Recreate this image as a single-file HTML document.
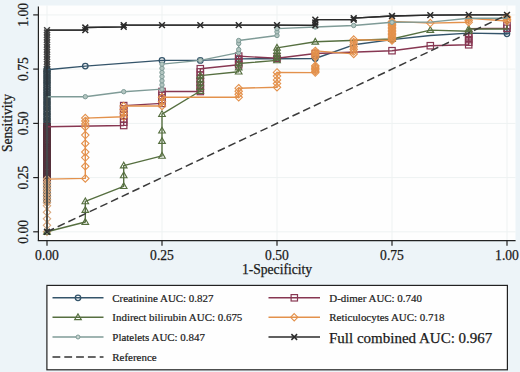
<!DOCTYPE html>
<html><head><meta charset="utf-8"><style>
html,body{margin:0;padding:0;background:#edf4f8;}
body{width:520px;height:372px;overflow:hidden;}
svg{display:block;}
.t{font-family:"Liberation Serif",serif;font-size:13.6px;fill:#1a1a1a;stroke:#1a1a1a;stroke-width:0.25px;}
.l{font-family:"Liberation Serif",serif;font-size:10.95px;fill:#1a1a1a;stroke:#1a1a1a;stroke-width:0.2px;}
.b{font-family:"Liberation Serif",serif;font-size:15px;fill:#1a1a1a;stroke:#1a1a1a;stroke-width:0.25px;}
</style></head><body>
<svg width="520" height="372" viewBox="0 0 520 372">
<rect width="520" height="372" fill="#edf4f8"/>
<rect x="38.5" y="5.5" width="477" height="235" fill="#fefefe"/>
<line x1="38.5" x2="515.5" y1="231.8" y2="231.8" stroke="#eef2f2" stroke-width="1"/>
<line y1="5.5" y2="240.5" x1="47.0" x2="47.0" stroke="#eef2f2" stroke-width="1"/>
<line x1="38.5" x2="515.5" y1="177.6" y2="177.6" stroke="#eef2f2" stroke-width="1"/>
<line y1="5.5" y2="240.5" x1="162.0" x2="162.0" stroke="#eef2f2" stroke-width="1"/>
<line x1="38.5" x2="515.5" y1="123.4" y2="123.4" stroke="#eef2f2" stroke-width="1"/>
<line y1="5.5" y2="240.5" x1="277.0" x2="277.0" stroke="#eef2f2" stroke-width="1"/>
<line x1="38.5" x2="515.5" y1="69.1" y2="69.1" stroke="#eef2f2" stroke-width="1"/>
<line y1="5.5" y2="240.5" x1="392.0" x2="392.0" stroke="#eef2f2" stroke-width="1"/>
<line x1="38.5" x2="515.5" y1="14.9" y2="14.9" stroke="#eef2f2" stroke-width="1"/>
<line y1="5.5" y2="240.5" x1="507.0" x2="507.0" stroke="#eef2f2" stroke-width="1"/>
<rect x="45.6" y="178.7" width="2.8" height="27.1" fill="#3a4248"/>
<polyline points="47.0,231.8 47.0,179.7 47.0,174.5 47.0,169.2 47.0,163.9 47.0,158.7 47.0,153.4 47.0,148.1 47.0,142.9 47.0,137.6 47.0,132.3 47.0,127.1 47.0,121.8 47.0,116.5 47.0,111.3 47.0,106.0 47.0,100.7 47.0,95.5 47.0,90.2 47.0,84.9 47.0,79.7 47.0,74.4 47.0,69.1 47.0,69.1 47.0,66.7 47.0,64.2 47.0,61.8 47.0,59.4 47.0,56.9 47.0,54.5 47.0,52.0 47.0,49.6 47.0,47.2 47.0,44.7 47.0,42.3 47.0,39.8 47.0,37.4 47.0,35.0 47.0,32.5 47.0,30.1 85.3,30.1 85.3,27.5 123.7,26.8 123.7,25.1 162.0,25.1 200.3,25.1 238.7,25.1 277.0,25.1 315.3,25.3 315.3,22.5 315.3,19.7 353.7,19.7 353.7,18.2 392.0,16.0 430.3,15.1 468.7,14.9 507.0,14.9" fill="none" stroke="#2b2b2b" stroke-width="1.3" stroke-linejoin="round" />
<path d="M44.1 176.8L49.9 182.6M44.1 182.6L49.9 176.8" stroke="#424242" stroke-width="1.5" fill="none"/><path d="M44.1 171.6L49.9 177.4M44.1 177.4L49.9 171.6" stroke="#424242" stroke-width="1.5" fill="none"/><path d="M44.1 166.3L49.9 172.1M44.1 172.1L49.9 166.3" stroke="#424242" stroke-width="1.5" fill="none"/><path d="M44.1 161.0L49.9 166.8M44.1 166.8L49.9 161.0" stroke="#424242" stroke-width="1.5" fill="none"/><path d="M44.1 155.8L49.9 161.6M44.1 161.6L49.9 155.8" stroke="#424242" stroke-width="1.5" fill="none"/><path d="M44.1 150.5L49.9 156.3M44.1 156.3L49.9 150.5" stroke="#424242" stroke-width="1.5" fill="none"/><path d="M44.1 145.2L49.9 151.0M44.1 151.0L49.9 145.2" stroke="#424242" stroke-width="1.5" fill="none"/><path d="M44.1 140.0L49.9 145.8M44.1 145.8L49.9 140.0" stroke="#424242" stroke-width="1.5" fill="none"/><path d="M44.1 134.7L49.9 140.5M44.1 140.5L49.9 134.7" stroke="#424242" stroke-width="1.5" fill="none"/><path d="M44.1 129.4L49.9 135.2M44.1 135.2L49.9 129.4" stroke="#424242" stroke-width="1.5" fill="none"/><path d="M44.1 124.2L49.9 130.0M44.1 130.0L49.9 124.2" stroke="#424242" stroke-width="1.5" fill="none"/><path d="M44.1 118.9L49.9 124.7M44.1 124.7L49.9 118.9" stroke="#424242" stroke-width="1.5" fill="none"/><path d="M44.1 113.6L49.9 119.4M44.1 119.4L49.9 113.6" stroke="#424242" stroke-width="1.5" fill="none"/><path d="M44.1 108.4L49.9 114.2M44.1 114.2L49.9 108.4" stroke="#424242" stroke-width="1.5" fill="none"/><path d="M44.1 103.1L49.9 108.9M44.1 108.9L49.9 103.1" stroke="#424242" stroke-width="1.5" fill="none"/><path d="M44.1 97.8L49.9 103.6M44.1 103.6L49.9 97.8" stroke="#424242" stroke-width="1.5" fill="none"/><path d="M44.1 92.6L49.9 98.4M44.1 98.4L49.9 92.6" stroke="#424242" stroke-width="1.5" fill="none"/><path d="M44.1 87.3L49.9 93.1M44.1 93.1L49.9 87.3" stroke="#424242" stroke-width="1.5" fill="none"/><path d="M44.1 82.0L49.9 87.8M44.1 87.8L49.9 82.0" stroke="#424242" stroke-width="1.5" fill="none"/><path d="M44.1 76.8L49.9 82.6M44.1 82.6L49.9 76.8" stroke="#424242" stroke-width="1.5" fill="none"/><path d="M44.1 71.5L49.9 77.3M44.1 77.3L49.9 71.5" stroke="#424242" stroke-width="1.5" fill="none"/><path d="M44.1 66.2L49.9 72.0M44.1 72.0L49.9 66.2" stroke="#424242" stroke-width="1.5" fill="none"/><path d="M44.1 66.2L49.9 72.0M44.1 72.0L49.9 66.2" stroke="#424242" stroke-width="1.5" fill="none"/><path d="M44.1 63.8L49.9 69.6M44.1 69.6L49.9 63.8" stroke="#424242" stroke-width="1.5" fill="none"/><path d="M44.1 61.3L49.9 67.1M44.1 67.1L49.9 61.3" stroke="#424242" stroke-width="1.5" fill="none"/><path d="M44.1 58.9L49.9 64.7M44.1 64.7L49.9 58.9" stroke="#424242" stroke-width="1.5" fill="none"/><path d="M44.1 56.5L49.9 62.3M44.1 62.3L49.9 56.5" stroke="#424242" stroke-width="1.5" fill="none"/><path d="M44.1 54.0L49.9 59.8M44.1 59.8L49.9 54.0" stroke="#424242" stroke-width="1.5" fill="none"/><path d="M44.1 51.6L49.9 57.4M44.1 57.4L49.9 51.6" stroke="#424242" stroke-width="1.5" fill="none"/><path d="M44.1 49.1L49.9 54.9M44.1 54.9L49.9 49.1" stroke="#424242" stroke-width="1.5" fill="none"/><path d="M44.1 46.7L49.9 52.5M44.1 52.5L49.9 46.7" stroke="#424242" stroke-width="1.5" fill="none"/><path d="M44.1 44.3L49.9 50.1M44.1 50.1L49.9 44.3" stroke="#424242" stroke-width="1.5" fill="none"/><path d="M44.1 41.8L49.9 47.6M44.1 47.6L49.9 41.8" stroke="#424242" stroke-width="1.5" fill="none"/><path d="M44.1 39.4L49.9 45.2M44.1 45.2L49.9 39.4" stroke="#424242" stroke-width="1.5" fill="none"/><path d="M44.1 36.9L49.9 42.7M44.1 42.7L49.9 36.9" stroke="#424242" stroke-width="1.5" fill="none"/><path d="M44.1 34.5L49.9 40.3M44.1 40.3L49.9 34.5" stroke="#424242" stroke-width="1.5" fill="none"/><path d="M44.1 32.1L49.9 37.9M44.1 37.9L49.9 32.1" stroke="#424242" stroke-width="1.5" fill="none"/><path d="M44.1 29.6L49.9 35.4M44.1 35.4L49.9 29.6" stroke="#424242" stroke-width="1.5" fill="none"/><path d="M44.1 27.2L49.9 33.0M44.1 33.0L49.9 27.2" stroke="#424242" stroke-width="1.5" fill="none"/>
<circle cx="47.0" cy="201.4" r="3.0" fill="none" stroke="#33434b" stroke-width="1.5"/><circle cx="47.0" cy="199.0" r="3.0" fill="none" stroke="#33434b" stroke-width="1.5"/><circle cx="47.0" cy="196.6" r="3.0" fill="none" stroke="#33434b" stroke-width="1.5"/><circle cx="47.0" cy="194.3" r="3.0" fill="none" stroke="#33434b" stroke-width="1.5"/><circle cx="47.0" cy="191.9" r="3.0" fill="none" stroke="#33434b" stroke-width="1.5"/><circle cx="47.0" cy="189.5" r="3.0" fill="none" stroke="#33434b" stroke-width="1.5"/><circle cx="47.0" cy="187.1" r="3.0" fill="none" stroke="#33434b" stroke-width="1.5"/><circle cx="47.0" cy="184.7" r="3.0" fill="none" stroke="#33434b" stroke-width="1.5"/><circle cx="47.0" cy="182.3" r="3.0" fill="none" stroke="#33434b" stroke-width="1.5"/><circle cx="47.0" cy="179.9" r="3.0" fill="none" stroke="#33434b" stroke-width="1.5"/><circle cx="47.0" cy="177.5" r="3.0" fill="none" stroke="#33434b" stroke-width="1.5"/><circle cx="47.0" cy="175.1" r="3.0" fill="none" stroke="#33434b" stroke-width="1.5"/><circle cx="47.0" cy="172.7" r="3.0" fill="none" stroke="#33434b" stroke-width="1.5"/><circle cx="47.0" cy="170.3" r="3.0" fill="none" stroke="#33434b" stroke-width="1.5"/><circle cx="47.0" cy="167.9" r="3.0" fill="none" stroke="#33434b" stroke-width="1.5"/><circle cx="47.0" cy="165.5" r="3.0" fill="none" stroke="#33434b" stroke-width="1.5"/><circle cx="47.0" cy="163.1" r="3.0" fill="none" stroke="#33434b" stroke-width="1.5"/><circle cx="47.0" cy="160.7" r="3.0" fill="none" stroke="#33434b" stroke-width="1.5"/><circle cx="47.0" cy="158.3" r="3.0" fill="none" stroke="#33434b" stroke-width="1.5"/><circle cx="47.0" cy="156.0" r="3.0" fill="none" stroke="#33434b" stroke-width="1.5"/><circle cx="47.0" cy="153.6" r="3.0" fill="none" stroke="#33434b" stroke-width="1.5"/><circle cx="47.0" cy="151.2" r="3.0" fill="none" stroke="#33434b" stroke-width="1.5"/><circle cx="47.0" cy="148.8" r="3.0" fill="none" stroke="#33434b" stroke-width="1.5"/><circle cx="47.0" cy="146.4" r="3.0" fill="none" stroke="#33434b" stroke-width="1.5"/><circle cx="47.0" cy="144.0" r="3.0" fill="none" stroke="#33434b" stroke-width="1.5"/><circle cx="47.0" cy="141.6" r="3.0" fill="none" stroke="#33434b" stroke-width="1.5"/><circle cx="47.0" cy="139.2" r="3.0" fill="none" stroke="#33434b" stroke-width="1.5"/><circle cx="47.0" cy="136.8" r="3.0" fill="none" stroke="#33434b" stroke-width="1.5"/><circle cx="47.0" cy="134.4" r="3.0" fill="none" stroke="#33434b" stroke-width="1.5"/><circle cx="47.0" cy="132.0" r="3.0" fill="none" stroke="#33434b" stroke-width="1.5"/><circle cx="47.0" cy="129.6" r="3.0" fill="none" stroke="#33434b" stroke-width="1.5"/><circle cx="47.0" cy="127.2" r="3.0" fill="none" stroke="#33434b" stroke-width="1.5"/><circle cx="47.0" cy="124.8" r="3.0" fill="none" stroke="#33434b" stroke-width="1.5"/><circle cx="47.0" cy="122.4" r="3.0" fill="none" stroke="#33434b" stroke-width="1.5"/><circle cx="47.0" cy="120.0" r="3.0" fill="none" stroke="#33434b" stroke-width="1.5"/><circle cx="47.0" cy="117.7" r="3.0" fill="none" stroke="#33434b" stroke-width="1.5"/><circle cx="47.0" cy="115.3" r="3.0" fill="none" stroke="#33434b" stroke-width="1.5"/><circle cx="47.0" cy="112.9" r="3.0" fill="none" stroke="#33434b" stroke-width="1.5"/><circle cx="47.0" cy="110.5" r="3.0" fill="none" stroke="#33434b" stroke-width="1.5"/><circle cx="47.0" cy="108.1" r="3.0" fill="none" stroke="#33434b" stroke-width="1.5"/><circle cx="47.0" cy="105.7" r="3.0" fill="none" stroke="#33434b" stroke-width="1.5"/><circle cx="47.0" cy="103.3" r="3.0" fill="none" stroke="#33434b" stroke-width="1.5"/><circle cx="47.0" cy="100.9" r="3.0" fill="none" stroke="#33434b" stroke-width="1.5"/><circle cx="47.0" cy="98.5" r="3.0" fill="none" stroke="#33434b" stroke-width="1.5"/><circle cx="47.0" cy="96.1" r="3.0" fill="none" stroke="#33434b" stroke-width="1.5"/><circle cx="47.0" cy="93.7" r="3.0" fill="none" stroke="#33434b" stroke-width="1.5"/><circle cx="47.0" cy="91.3" r="3.0" fill="none" stroke="#33434b" stroke-width="1.5"/><circle cx="47.0" cy="88.9" r="3.0" fill="none" stroke="#33434b" stroke-width="1.5"/><circle cx="47.0" cy="86.5" r="3.0" fill="none" stroke="#33434b" stroke-width="1.5"/><circle cx="47.0" cy="84.1" r="3.0" fill="none" stroke="#33434b" stroke-width="1.5"/><circle cx="47.0" cy="81.7" r="3.0" fill="none" stroke="#33434b" stroke-width="1.5"/><circle cx="47.0" cy="79.4" r="3.0" fill="none" stroke="#33434b" stroke-width="1.5"/><circle cx="47.0" cy="77.0" r="3.0" fill="none" stroke="#33434b" stroke-width="1.5"/><circle cx="47.0" cy="74.6" r="3.0" fill="none" stroke="#33434b" stroke-width="1.5"/><circle cx="47.0" cy="72.2" r="3.0" fill="none" stroke="#33434b" stroke-width="1.5"/><circle cx="47.0" cy="69.8" r="3.0" fill="none" stroke="#33434b" stroke-width="1.5"/>
<rect x="43.8" y="175.9" width="6.4" height="6.4" fill="none" stroke="#55303b" stroke-width="1.2"/><rect x="43.8" y="174.0" width="6.4" height="6.4" fill="none" stroke="#55303b" stroke-width="1.2"/><rect x="43.8" y="172.0" width="6.4" height="6.4" fill="none" stroke="#55303b" stroke-width="1.2"/><rect x="43.8" y="170.1" width="6.4" height="6.4" fill="none" stroke="#55303b" stroke-width="1.2"/><rect x="43.8" y="168.1" width="6.4" height="6.4" fill="none" stroke="#55303b" stroke-width="1.2"/><rect x="43.8" y="166.2" width="6.4" height="6.4" fill="none" stroke="#55303b" stroke-width="1.2"/><rect x="43.8" y="164.3" width="6.4" height="6.4" fill="none" stroke="#55303b" stroke-width="1.2"/><rect x="43.8" y="162.3" width="6.4" height="6.4" fill="none" stroke="#55303b" stroke-width="1.2"/><rect x="43.8" y="160.4" width="6.4" height="6.4" fill="none" stroke="#55303b" stroke-width="1.2"/><rect x="43.8" y="158.5" width="6.4" height="6.4" fill="none" stroke="#55303b" stroke-width="1.2"/><rect x="43.8" y="156.5" width="6.4" height="6.4" fill="none" stroke="#55303b" stroke-width="1.2"/><rect x="43.8" y="154.6" width="6.4" height="6.4" fill="none" stroke="#55303b" stroke-width="1.2"/><rect x="43.8" y="152.7" width="6.4" height="6.4" fill="none" stroke="#55303b" stroke-width="1.2"/><rect x="43.8" y="150.7" width="6.4" height="6.4" fill="none" stroke="#55303b" stroke-width="1.2"/><rect x="43.8" y="148.8" width="6.4" height="6.4" fill="none" stroke="#55303b" stroke-width="1.2"/><rect x="43.8" y="146.9" width="6.4" height="6.4" fill="none" stroke="#55303b" stroke-width="1.2"/><rect x="43.8" y="144.9" width="6.4" height="6.4" fill="none" stroke="#55303b" stroke-width="1.2"/><rect x="43.8" y="143.0" width="6.4" height="6.4" fill="none" stroke="#55303b" stroke-width="1.2"/><rect x="43.8" y="141.0" width="6.4" height="6.4" fill="none" stroke="#55303b" stroke-width="1.2"/><rect x="43.8" y="139.1" width="6.4" height="6.4" fill="none" stroke="#55303b" stroke-width="1.2"/><rect x="43.8" y="137.2" width="6.4" height="6.4" fill="none" stroke="#55303b" stroke-width="1.2"/><rect x="43.8" y="135.2" width="6.4" height="6.4" fill="none" stroke="#55303b" stroke-width="1.2"/><rect x="43.8" y="133.3" width="6.4" height="6.4" fill="none" stroke="#55303b" stroke-width="1.2"/><rect x="43.8" y="131.4" width="6.4" height="6.4" fill="none" stroke="#55303b" stroke-width="1.2"/><rect x="43.8" y="129.4" width="6.4" height="6.4" fill="none" stroke="#55303b" stroke-width="1.2"/><rect x="43.8" y="127.5" width="6.4" height="6.4" fill="none" stroke="#55303b" stroke-width="1.2"/><rect x="43.8" y="125.6" width="6.4" height="6.4" fill="none" stroke="#55303b" stroke-width="1.2"/><rect x="43.8" y="123.6" width="6.4" height="6.4" fill="none" stroke="#55303b" stroke-width="1.2"/>
<polygon points="47.0,228.1 50.7,231.8 47.0,235.5 43.3,231.8" fill="none" stroke="#d9a77c" stroke-width="1.1"/><polygon points="47.0,221.6 50.7,225.3 47.0,229.0 43.3,225.3" fill="none" stroke="#d9a77c" stroke-width="1.1"/><polygon points="47.0,215.1 50.7,218.8 47.0,222.5 43.3,218.8" fill="none" stroke="#d9a77c" stroke-width="1.1"/><polygon points="47.0,208.6 50.7,212.3 47.0,216.0 43.3,212.3" fill="none" stroke="#d9a77c" stroke-width="1.1"/><polygon points="47.0,202.1 50.7,205.8 47.0,209.5 43.3,205.8" fill="none" stroke="#d9a77c" stroke-width="1.1"/><polygon points="47.0,198.8 50.7,202.5 47.0,206.2 43.3,202.5" fill="none" stroke="#d9a77c" stroke-width="1.1"/><polygon points="47.0,195.9 50.7,199.6 47.0,203.3 43.3,199.6" fill="none" stroke="#d9a77c" stroke-width="1.1"/><polygon points="47.0,193.0 50.7,196.7 47.0,200.4 43.3,196.7" fill="none" stroke="#d9a77c" stroke-width="1.1"/><polygon points="47.0,190.0 50.7,193.7 47.0,197.4 43.3,193.7" fill="none" stroke="#d9a77c" stroke-width="1.1"/><polygon points="47.0,187.1 50.7,190.8 47.0,194.5 43.3,190.8" fill="none" stroke="#d9a77c" stroke-width="1.1"/><polygon points="47.0,184.2 50.7,187.9 47.0,191.6 43.3,187.9" fill="none" stroke="#d9a77c" stroke-width="1.1"/><polygon points="47.0,181.2 50.7,184.9 47.0,188.6 43.3,184.9" fill="none" stroke="#d9a77c" stroke-width="1.1"/><polygon points="47.0,178.3 50.7,182.0 47.0,185.7 43.3,182.0" fill="none" stroke="#d9a77c" stroke-width="1.1"/><polygon points="47.0,175.4 50.7,179.1 47.0,182.8 43.3,179.1" fill="none" stroke="#d9a77c" stroke-width="1.1"/>
<polyline points="47.0,231.8 47.0,201.4 47.0,199.0 47.0,196.6 47.0,194.3 47.0,191.9 47.0,189.5 47.0,187.1 47.0,184.7 47.0,182.3 47.0,179.9 47.0,177.5 47.0,175.1 47.0,172.7 47.0,170.3 47.0,167.9 47.0,165.5 47.0,163.1 47.0,160.7 47.0,158.3 47.0,156.0 47.0,153.6 47.0,151.2 47.0,148.8 47.0,146.4 47.0,144.0 47.0,141.6 47.0,139.2 47.0,136.8 47.0,134.4 47.0,132.0 47.0,129.6 47.0,127.2 47.0,124.8 47.0,122.4 47.0,120.0 47.0,117.7 47.0,115.3 47.0,112.9 47.0,110.5 47.0,108.1 47.0,105.7 47.0,103.3 47.0,100.9 47.0,98.5 47.0,96.1 47.0,93.7 47.0,91.3 47.0,88.9 47.0,86.5 47.0,84.1 47.0,81.7 47.0,79.4 47.0,77.0 47.0,74.6 47.0,72.2 47.0,69.8 85.3,66.1 162.0,60.4 200.3,60.4 238.7,58.9 277.0,58.7 315.3,58.5 353.7,44.8 392.0,39.6 430.3,35.5 468.7,33.1 507.0,33.8 507.0,31.2 507.0,14.9" fill="none" stroke="#34546a" stroke-width="1.4" stroke-linejoin="round" />
<circle cx="85.3" cy="66.1" r="2.75" fill="none" stroke="#34546a" stroke-width="1.3"/><circle cx="162.0" cy="60.4" r="2.75" fill="none" stroke="#34546a" stroke-width="1.3"/><circle cx="200.3" cy="60.4" r="2.75" fill="none" stroke="#34546a" stroke-width="1.3"/><circle cx="238.7" cy="58.9" r="2.75" fill="none" stroke="#34546a" stroke-width="1.3"/><circle cx="277.0" cy="58.7" r="2.75" fill="none" stroke="#34546a" stroke-width="1.3"/><circle cx="315.3" cy="58.5" r="2.75" fill="none" stroke="#34546a" stroke-width="1.3"/><circle cx="392.0" cy="39.6" r="2.75" fill="none" stroke="#34546a" stroke-width="1.3"/><circle cx="507.0" cy="33.8" r="2.75" fill="none" stroke="#34546a" stroke-width="1.3"/><circle cx="507.0" cy="31.2" r="2.75" fill="none" stroke="#34546a" stroke-width="1.3"/>
<polyline points="47.0,231.8 47.0,179.1 47.0,177.2 47.0,175.2 47.0,173.3 47.0,171.3 47.0,169.4 47.0,167.5 47.0,165.5 47.0,163.6 47.0,161.7 47.0,159.7 47.0,157.8 47.0,155.9 47.0,153.9 47.0,152.0 47.0,150.1 47.0,148.1 47.0,146.2 47.0,144.2 47.0,142.3 47.0,140.4 47.0,138.4 47.0,136.5 47.0,134.6 47.0,132.6 47.0,130.7 47.0,128.8 47.0,126.8 123.7,125.5 123.7,122.2 123.7,118.9 123.7,115.5 123.7,112.2 123.7,108.9 123.7,105.6 162.0,103.4 162.0,99.4 162.0,95.4 162.0,91.5 200.3,91.5 200.3,88.2 200.3,85.0 200.3,81.7 200.3,78.5 200.3,75.2 200.3,71.9 200.3,68.7 238.7,64.8 238.7,61.9 238.7,59.0 238.7,56.1 277.0,58.3 315.3,53.5 392.0,50.7 430.3,45.7 468.7,44.8 468.7,42.2 468.7,39.6 468.7,37.0 468.7,34.4 468.7,28.6 507.0,28.3 507.0,25.7 507.0,14.9" fill="none" stroke="#873752" stroke-width="1.4" stroke-linejoin="round" />
<rect x="120.5" y="122.3" width="6.4" height="6.4" fill="none" stroke="#873752" stroke-width="1.2"/><rect x="120.5" y="119.0" width="6.4" height="6.4" fill="none" stroke="#873752" stroke-width="1.2"/><rect x="120.5" y="115.7" width="6.4" height="6.4" fill="none" stroke="#873752" stroke-width="1.2"/><rect x="120.5" y="112.3" width="6.4" height="6.4" fill="none" stroke="#873752" stroke-width="1.2"/><rect x="120.5" y="109.0" width="6.4" height="6.4" fill="none" stroke="#873752" stroke-width="1.2"/><rect x="120.5" y="105.7" width="6.4" height="6.4" fill="none" stroke="#873752" stroke-width="1.2"/><rect x="120.5" y="102.4" width="6.4" height="6.4" fill="none" stroke="#873752" stroke-width="1.2"/><rect x="158.8" y="100.2" width="6.4" height="6.4" fill="none" stroke="#873752" stroke-width="1.2"/><rect x="158.8" y="96.2" width="6.4" height="6.4" fill="none" stroke="#873752" stroke-width="1.2"/><rect x="158.8" y="92.2" width="6.4" height="6.4" fill="none" stroke="#873752" stroke-width="1.2"/><rect x="158.8" y="88.3" width="6.4" height="6.4" fill="none" stroke="#873752" stroke-width="1.2"/><rect x="197.1" y="88.3" width="6.4" height="6.4" fill="none" stroke="#873752" stroke-width="1.2"/><rect x="197.1" y="85.0" width="6.4" height="6.4" fill="none" stroke="#873752" stroke-width="1.2"/><rect x="197.1" y="81.8" width="6.4" height="6.4" fill="none" stroke="#873752" stroke-width="1.2"/><rect x="197.1" y="78.5" width="6.4" height="6.4" fill="none" stroke="#873752" stroke-width="1.2"/><rect x="197.1" y="75.3" width="6.4" height="6.4" fill="none" stroke="#873752" stroke-width="1.2"/><rect x="197.1" y="72.0" width="6.4" height="6.4" fill="none" stroke="#873752" stroke-width="1.2"/><rect x="197.1" y="68.7" width="6.4" height="6.4" fill="none" stroke="#873752" stroke-width="1.2"/><rect x="197.1" y="65.5" width="6.4" height="6.4" fill="none" stroke="#873752" stroke-width="1.2"/><rect x="235.5" y="61.6" width="6.4" height="6.4" fill="none" stroke="#873752" stroke-width="1.2"/><rect x="235.5" y="58.7" width="6.4" height="6.4" fill="none" stroke="#873752" stroke-width="1.2"/><rect x="235.5" y="55.8" width="6.4" height="6.4" fill="none" stroke="#873752" stroke-width="1.2"/><rect x="235.5" y="52.9" width="6.4" height="6.4" fill="none" stroke="#873752" stroke-width="1.2"/><rect x="273.8" y="55.1" width="6.4" height="6.4" fill="none" stroke="#873752" stroke-width="1.2"/><rect x="312.1" y="50.3" width="6.4" height="6.4" fill="none" stroke="#873752" stroke-width="1.2"/><rect x="388.8" y="47.5" width="6.4" height="6.4" fill="none" stroke="#873752" stroke-width="1.2"/><rect x="427.1" y="42.5" width="6.4" height="6.4" fill="none" stroke="#873752" stroke-width="1.2"/><rect x="465.5" y="41.6" width="6.4" height="6.4" fill="none" stroke="#873752" stroke-width="1.2"/><rect x="465.5" y="39.0" width="6.4" height="6.4" fill="none" stroke="#873752" stroke-width="1.2"/><rect x="465.5" y="36.4" width="6.4" height="6.4" fill="none" stroke="#873752" stroke-width="1.2"/><rect x="465.5" y="33.8" width="6.4" height="6.4" fill="none" stroke="#873752" stroke-width="1.2"/><rect x="465.5" y="31.2" width="6.4" height="6.4" fill="none" stroke="#873752" stroke-width="1.2"/><rect x="503.8" y="25.1" width="6.4" height="6.4" fill="none" stroke="#873752" stroke-width="1.2"/><rect x="503.8" y="22.5" width="6.4" height="6.4" fill="none" stroke="#873752" stroke-width="1.2"/>
<polyline points="47.0,231.8 85.3,222.0 85.3,210.1 85.3,201.4 123.7,186.3 123.7,175.4 123.7,165.6 162.0,155.9 162.0,141.1 162.0,130.7 162.0,114.2 200.3,91.0 200.3,87.2 200.3,83.3 200.3,79.5 200.3,75.6 238.7,71.7 238.7,67.6 238.7,63.5 277.0,60.4 277.0,57.3 277.0,54.2 277.0,51.0 277.0,47.9 315.3,41.8 392.0,39.0 430.3,30.1 468.7,31.2 468.7,29.0 507.0,29.0 507.0,14.9" fill="none" stroke="#566f40" stroke-width="1.4" stroke-linejoin="round" />
<polygon points="47.0,228.4 43.7,234.1 50.3,234.1" fill="none" stroke="#566f40" stroke-width="1.15"/><polygon points="85.3,218.6 82.0,224.3 88.6,224.3" fill="none" stroke="#566f40" stroke-width="1.15"/><polygon points="85.3,206.7 82.0,212.4 88.6,212.4" fill="none" stroke="#566f40" stroke-width="1.15"/><polygon points="85.3,198.0 82.0,203.7 88.6,203.7" fill="none" stroke="#566f40" stroke-width="1.15"/><polygon points="123.7,182.8 120.4,188.5 127.0,188.5" fill="none" stroke="#566f40" stroke-width="1.15"/><polygon points="123.7,172.0 120.4,177.7 127.0,177.7" fill="none" stroke="#566f40" stroke-width="1.15"/><polygon points="123.7,162.2 120.4,167.9 127.0,167.9" fill="none" stroke="#566f40" stroke-width="1.15"/><polygon points="162.0,152.5 158.7,158.2 165.3,158.2" fill="none" stroke="#566f40" stroke-width="1.15"/><polygon points="162.0,137.7 158.7,143.4 165.3,143.4" fill="none" stroke="#566f40" stroke-width="1.15"/><polygon points="162.0,127.3 158.7,133.0 165.3,133.0" fill="none" stroke="#566f40" stroke-width="1.15"/><polygon points="162.0,110.8 158.7,116.5 165.3,116.5" fill="none" stroke="#566f40" stroke-width="1.15"/><polygon points="200.3,87.6 197.0,93.3 203.6,93.3" fill="none" stroke="#566f40" stroke-width="1.15"/><polygon points="200.3,83.8 197.0,89.5 203.6,89.5" fill="none" stroke="#566f40" stroke-width="1.15"/><polygon points="200.3,79.9 197.0,85.6 203.6,85.6" fill="none" stroke="#566f40" stroke-width="1.15"/><polygon points="200.3,76.1 197.0,81.8 203.6,81.8" fill="none" stroke="#566f40" stroke-width="1.15"/><polygon points="200.3,72.2 197.0,77.9 203.6,77.9" fill="none" stroke="#566f40" stroke-width="1.15"/><polygon points="238.7,68.3 235.4,74.0 242.0,74.0" fill="none" stroke="#566f40" stroke-width="1.15"/><polygon points="238.7,64.2 235.4,69.9 242.0,69.9" fill="none" stroke="#566f40" stroke-width="1.15"/><polygon points="238.7,60.1 235.4,65.8 242.0,65.8" fill="none" stroke="#566f40" stroke-width="1.15"/><polygon points="277.0,57.0 273.7,62.7 280.3,62.7" fill="none" stroke="#566f40" stroke-width="1.15"/><polygon points="277.0,53.9 273.7,59.6 280.3,59.6" fill="none" stroke="#566f40" stroke-width="1.15"/><polygon points="277.0,50.7 273.7,56.4 280.3,56.4" fill="none" stroke="#566f40" stroke-width="1.15"/><polygon points="277.0,47.6 273.7,53.3 280.3,53.3" fill="none" stroke="#566f40" stroke-width="1.15"/><polygon points="277.0,44.4 273.7,50.2 280.3,50.2" fill="none" stroke="#566f40" stroke-width="1.15"/><polygon points="315.3,38.4 312.0,44.1 318.6,44.1" fill="none" stroke="#566f40" stroke-width="1.15"/><polygon points="392.0,35.5 388.7,41.3 395.3,41.3" fill="none" stroke="#566f40" stroke-width="1.15"/><polygon points="430.3,26.7 427.0,32.4 433.6,32.4" fill="none" stroke="#566f40" stroke-width="1.15"/><polygon points="468.7,27.7 465.4,33.5 472.0,33.5" fill="none" stroke="#566f40" stroke-width="1.15"/><polygon points="468.7,25.6 465.4,31.3 472.0,31.3" fill="none" stroke="#566f40" stroke-width="1.15"/>
<polyline points="47.0,231.8 47.0,225.3 47.0,218.8 47.0,212.3 47.0,205.8 47.0,202.5 47.0,199.6 47.0,196.7 47.0,193.7 47.0,190.8 47.0,187.9 47.0,184.9 47.0,182.0 47.0,179.1 85.3,178.4 85.3,166.3 85.3,157.6 85.3,152.0 85.3,143.5 85.3,135.1 85.3,127.0 85.3,124.0 85.3,121.0 85.3,118.1 123.7,116.8 123.7,113.2 123.7,109.6 123.7,106.0 162.0,106.0 162.0,101.7 162.0,97.3 238.7,97.3 238.7,94.3 238.7,91.2 238.7,88.2 277.0,87.3 277.0,83.6 277.0,79.9 277.0,76.1 277.0,72.4 315.3,72.6 315.3,71.2 315.3,69.8 315.3,68.4 315.3,67.0 315.3,65.7 315.3,57.2 315.3,55.6 315.3,54.1 315.3,52.5 315.3,50.9 353.7,53.9 353.7,51.6 353.7,49.2 353.7,46.8 353.7,44.4 353.7,42.0 353.7,39.6 392.0,40.5 392.0,39.0 392.0,37.6 392.0,36.1 392.0,34.6 392.0,33.2 392.0,31.7 392.0,30.2 392.0,28.7 392.0,27.3 392.0,25.8 392.0,24.3 392.0,22.9 392.0,21.4 430.3,23.1 468.7,22.3 468.7,20.3 468.7,18.2 507.0,21.0 507.0,19.2 507.0,17.1 507.0,14.9" fill="none" stroke="#e3914c" stroke-width="1.4" stroke-linejoin="round" />
<polygon points="85.3,174.7 89.0,178.4 85.3,182.1 81.6,178.4" fill="none" stroke="#e3914c" stroke-width="1.1"/><polygon points="85.3,162.6 89.0,166.3 85.3,170.0 81.6,166.3" fill="none" stroke="#e3914c" stroke-width="1.1"/><polygon points="85.3,153.9 89.0,157.6 85.3,161.3 81.6,157.6" fill="none" stroke="#e3914c" stroke-width="1.1"/><polygon points="85.3,148.3 89.0,152.0 85.3,155.7 81.6,152.0" fill="none" stroke="#e3914c" stroke-width="1.1"/><polygon points="85.3,139.8 89.0,143.5 85.3,147.2 81.6,143.5" fill="none" stroke="#e3914c" stroke-width="1.1"/><polygon points="85.3,131.4 89.0,135.1 85.3,138.8 81.6,135.1" fill="none" stroke="#e3914c" stroke-width="1.1"/><polygon points="85.3,123.3 89.0,127.0 85.3,130.7 81.6,127.0" fill="none" stroke="#e3914c" stroke-width="1.1"/><polygon points="85.3,120.3 89.0,124.0 85.3,127.7 81.6,124.0" fill="none" stroke="#e3914c" stroke-width="1.1"/><polygon points="85.3,117.3 89.0,121.0 85.3,124.7 81.6,121.0" fill="none" stroke="#e3914c" stroke-width="1.1"/><polygon points="85.3,114.4 89.0,118.1 85.3,121.8 81.6,118.1" fill="none" stroke="#e3914c" stroke-width="1.1"/><polygon points="123.7,113.1 127.4,116.8 123.7,120.5 120.0,116.8" fill="none" stroke="#e3914c" stroke-width="1.1"/><polygon points="123.7,109.5 127.4,113.2 123.7,116.9 120.0,113.2" fill="none" stroke="#e3914c" stroke-width="1.1"/><polygon points="123.7,105.9 127.4,109.6 123.7,113.3 120.0,109.6" fill="none" stroke="#e3914c" stroke-width="1.1"/><polygon points="123.7,102.3 127.4,106.0 123.7,109.7 120.0,106.0" fill="none" stroke="#e3914c" stroke-width="1.1"/><polygon points="162.0,102.3 165.7,106.0 162.0,109.7 158.3,106.0" fill="none" stroke="#e3914c" stroke-width="1.1"/><polygon points="162.0,98.0 165.7,101.7 162.0,105.4 158.3,101.7" fill="none" stroke="#e3914c" stroke-width="1.1"/><polygon points="162.0,93.6 165.7,97.3 162.0,101.0 158.3,97.3" fill="none" stroke="#e3914c" stroke-width="1.1"/><polygon points="238.7,93.6 242.4,97.3 238.7,101.0 235.0,97.3" fill="none" stroke="#e3914c" stroke-width="1.1"/><polygon points="238.7,90.6 242.4,94.3 238.7,98.0 235.0,94.3" fill="none" stroke="#e3914c" stroke-width="1.1"/><polygon points="238.7,87.5 242.4,91.2 238.7,94.9 235.0,91.2" fill="none" stroke="#e3914c" stroke-width="1.1"/><polygon points="238.7,84.5 242.4,88.2 238.7,91.9 235.0,88.2" fill="none" stroke="#e3914c" stroke-width="1.1"/><polygon points="277.0,83.6 280.7,87.3 277.0,91.0 273.3,87.3" fill="none" stroke="#e3914c" stroke-width="1.1"/><polygon points="277.0,79.9 280.7,83.6 277.0,87.3 273.3,83.6" fill="none" stroke="#e3914c" stroke-width="1.1"/><polygon points="277.0,76.2 280.7,79.9 277.0,83.6 273.3,79.9" fill="none" stroke="#e3914c" stroke-width="1.1"/><polygon points="277.0,72.4 280.7,76.1 277.0,79.8 273.3,76.1" fill="none" stroke="#e3914c" stroke-width="1.1"/><polygon points="277.0,68.7 280.7,72.4 277.0,76.1 273.3,72.4" fill="none" stroke="#e3914c" stroke-width="1.1"/><polygon points="315.3,68.9 319.0,72.6 315.3,76.3 311.6,72.6" fill="none" stroke="#e3914c" stroke-width="1.1"/><polygon points="315.3,67.5 319.0,71.2 315.3,74.9 311.6,71.2" fill="none" stroke="#e3914c" stroke-width="1.1"/><polygon points="315.3,66.1 319.0,69.8 315.3,73.5 311.6,69.8" fill="none" stroke="#e3914c" stroke-width="1.1"/><polygon points="315.3,64.7 319.0,68.4 315.3,72.1 311.6,68.4" fill="none" stroke="#e3914c" stroke-width="1.1"/><polygon points="315.3,63.3 319.0,67.0 315.3,70.7 311.6,67.0" fill="none" stroke="#e3914c" stroke-width="1.1"/><polygon points="315.3,62.0 319.0,65.7 315.3,69.4 311.6,65.7" fill="none" stroke="#e3914c" stroke-width="1.1"/><polygon points="315.3,53.5 319.0,57.2 315.3,60.9 311.6,57.2" fill="none" stroke="#e3914c" stroke-width="1.1"/><polygon points="315.3,51.9 319.0,55.6 315.3,59.3 311.6,55.6" fill="none" stroke="#e3914c" stroke-width="1.1"/><polygon points="315.3,50.4 319.0,54.1 315.3,57.8 311.6,54.1" fill="none" stroke="#e3914c" stroke-width="1.1"/><polygon points="315.3,48.8 319.0,52.5 315.3,56.2 311.6,52.5" fill="none" stroke="#e3914c" stroke-width="1.1"/><polygon points="315.3,47.2 319.0,50.9 315.3,54.6 311.6,50.9" fill="none" stroke="#e3914c" stroke-width="1.1"/><polygon points="353.7,50.2 357.4,53.9 353.7,57.6 350.0,53.9" fill="none" stroke="#e3914c" stroke-width="1.1"/><polygon points="353.7,47.9 357.4,51.6 353.7,55.3 350.0,51.6" fill="none" stroke="#e3914c" stroke-width="1.1"/><polygon points="353.7,45.5 357.4,49.2 353.7,52.9 350.0,49.2" fill="none" stroke="#e3914c" stroke-width="1.1"/><polygon points="353.7,43.1 357.4,46.8 353.7,50.5 350.0,46.8" fill="none" stroke="#e3914c" stroke-width="1.1"/><polygon points="353.7,40.7 357.4,44.4 353.7,48.1 350.0,44.4" fill="none" stroke="#e3914c" stroke-width="1.1"/><polygon points="353.7,38.3 357.4,42.0 353.7,45.7 350.0,42.0" fill="none" stroke="#e3914c" stroke-width="1.1"/><polygon points="353.7,35.9 357.4,39.6 353.7,43.3 350.0,39.6" fill="none" stroke="#e3914c" stroke-width="1.1"/><polygon points="392.0,36.8 395.7,40.5 392.0,44.2 388.3,40.5" fill="none" stroke="#e3914c" stroke-width="1.1"/><polygon points="392.0,35.3 395.7,39.0 392.0,42.7 388.3,39.0" fill="none" stroke="#e3914c" stroke-width="1.1"/><polygon points="392.0,33.9 395.7,37.6 392.0,41.3 388.3,37.6" fill="none" stroke="#e3914c" stroke-width="1.1"/><polygon points="392.0,32.4 395.7,36.1 392.0,39.8 388.3,36.1" fill="none" stroke="#e3914c" stroke-width="1.1"/><polygon points="392.0,30.9 395.7,34.6 392.0,38.3 388.3,34.6" fill="none" stroke="#e3914c" stroke-width="1.1"/><polygon points="392.0,29.5 395.7,33.2 392.0,36.9 388.3,33.2" fill="none" stroke="#e3914c" stroke-width="1.1"/><polygon points="392.0,28.0 395.7,31.7 392.0,35.4 388.3,31.7" fill="none" stroke="#e3914c" stroke-width="1.1"/><polygon points="392.0,26.5 395.7,30.2 392.0,33.9 388.3,30.2" fill="none" stroke="#e3914c" stroke-width="1.1"/><polygon points="392.0,25.0 395.7,28.7 392.0,32.4 388.3,28.7" fill="none" stroke="#e3914c" stroke-width="1.1"/><polygon points="392.0,23.6 395.7,27.3 392.0,31.0 388.3,27.3" fill="none" stroke="#e3914c" stroke-width="1.1"/><polygon points="392.0,22.1 395.7,25.8 392.0,29.5 388.3,25.8" fill="none" stroke="#e3914c" stroke-width="1.1"/><polygon points="392.0,20.6 395.7,24.3 392.0,28.0 388.3,24.3" fill="none" stroke="#e3914c" stroke-width="1.1"/><polygon points="392.0,19.2 395.7,22.9 392.0,26.6 388.3,22.9" fill="none" stroke="#e3914c" stroke-width="1.1"/><polygon points="392.0,17.7 395.7,21.4 392.0,25.1 388.3,21.4" fill="none" stroke="#e3914c" stroke-width="1.1"/><polygon points="430.3,19.4 434.0,23.1 430.3,26.8 426.6,23.1" fill="none" stroke="#e3914c" stroke-width="1.1"/><polygon points="468.7,18.6 472.4,22.3 468.7,26.0 465.0,22.3" fill="none" stroke="#e3914c" stroke-width="1.1"/><polygon points="468.7,16.6 472.4,20.3 468.7,24.0 465.0,20.3" fill="none" stroke="#e3914c" stroke-width="1.1"/><polygon points="468.7,14.5 472.4,18.2 468.7,21.9 465.0,18.2" fill="none" stroke="#e3914c" stroke-width="1.1"/><polygon points="507.0,17.3 510.7,21.0 507.0,24.7 503.3,21.0" fill="none" stroke="#e3914c" stroke-width="1.1"/><polygon points="507.0,15.5 510.7,19.2 507.0,22.9 503.3,19.2" fill="none" stroke="#e3914c" stroke-width="1.1"/><polygon points="507.0,13.4 510.7,17.1 507.0,20.8 503.3,17.1" fill="none" stroke="#e3914c" stroke-width="1.1"/>
<polyline points="47.0,231.8 47.0,201.4 47.0,195.9 47.0,190.4 47.0,184.9 47.0,179.4 47.0,173.9 47.0,168.4 47.0,162.8 47.0,157.3 47.0,151.8 47.0,146.3 47.0,140.8 47.0,135.3 47.0,129.8 47.0,124.2 47.0,118.7 47.0,113.2 47.0,107.7 47.0,102.2 47.0,96.7 85.3,96.7 123.7,91.7 162.0,89.1 162.0,84.9 162.0,80.8 162.0,76.6 162.0,72.5 162.0,68.3 162.0,64.1 200.3,60.4 238.7,52.6 238.7,49.6 238.7,43.5 238.7,40.5 277.0,35.5 277.0,31.8 277.0,28.6 315.3,27.0 353.7,25.5 392.0,22.3 430.3,22.1 468.7,18.2 507.0,18.2 507.0,14.9" fill="none" stroke="#7f9b97" stroke-width="1.4" stroke-linejoin="round" />
<circle cx="85.3" cy="96.7" r="2.2" fill="#b3c6c1" stroke="#7f9b97" stroke-width="1.0"/><circle cx="123.7" cy="91.7" r="2.2" fill="#b3c6c1" stroke="#7f9b97" stroke-width="1.0"/><circle cx="162.0" cy="89.1" r="2.2" fill="#b3c6c1" stroke="#7f9b97" stroke-width="1.0"/><circle cx="162.0" cy="84.9" r="2.2" fill="#b3c6c1" stroke="#7f9b97" stroke-width="1.0"/><circle cx="162.0" cy="80.8" r="2.2" fill="#b3c6c1" stroke="#7f9b97" stroke-width="1.0"/><circle cx="162.0" cy="76.6" r="2.2" fill="#b3c6c1" stroke="#7f9b97" stroke-width="1.0"/><circle cx="162.0" cy="72.5" r="2.2" fill="#b3c6c1" stroke="#7f9b97" stroke-width="1.0"/><circle cx="162.0" cy="68.3" r="2.2" fill="#b3c6c1" stroke="#7f9b97" stroke-width="1.0"/><circle cx="162.0" cy="64.1" r="2.2" fill="#b3c6c1" stroke="#7f9b97" stroke-width="1.0"/><circle cx="200.3" cy="60.4" r="2.2" fill="#b3c6c1" stroke="#7f9b97" stroke-width="1.0"/><circle cx="238.7" cy="52.6" r="2.2" fill="#b3c6c1" stroke="#7f9b97" stroke-width="1.0"/><circle cx="238.7" cy="49.6" r="2.2" fill="#b3c6c1" stroke="#7f9b97" stroke-width="1.0"/><circle cx="238.7" cy="43.5" r="2.2" fill="#b3c6c1" stroke="#7f9b97" stroke-width="1.0"/><circle cx="238.7" cy="40.5" r="2.2" fill="#b3c6c1" stroke="#7f9b97" stroke-width="1.0"/><circle cx="277.0" cy="35.5" r="2.2" fill="#b3c6c1" stroke="#7f9b97" stroke-width="1.0"/><circle cx="277.0" cy="31.8" r="2.2" fill="#b3c6c1" stroke="#7f9b97" stroke-width="1.0"/><circle cx="277.0" cy="28.6" r="2.2" fill="#b3c6c1" stroke="#7f9b97" stroke-width="1.0"/><circle cx="315.3" cy="27.0" r="2.2" fill="#b3c6c1" stroke="#7f9b97" stroke-width="1.0"/><circle cx="353.7" cy="25.5" r="2.2" fill="#b3c6c1" stroke="#7f9b97" stroke-width="1.0"/><circle cx="392.0" cy="22.3" r="2.2" fill="#b3c6c1" stroke="#7f9b97" stroke-width="1.0"/>
<polyline points="47.0,231.8 47.0,179.7 47.0,174.5 47.0,169.2 47.0,163.9 47.0,158.7 47.0,153.4 47.0,148.1 47.0,142.9 47.0,137.6 47.0,132.3 47.0,127.1 47.0,121.8 47.0,116.5 47.0,111.3 47.0,106.0 47.0,100.7 47.0,95.5 47.0,90.2 47.0,84.9 47.0,79.7 47.0,74.4 47.0,69.1 47.0,69.1 47.0,66.7 47.0,64.2 47.0,61.8 47.0,59.4 47.0,56.9 47.0,54.5 47.0,52.0 47.0,49.6 47.0,47.2 47.0,44.7 47.0,42.3 47.0,39.8 47.0,37.4 47.0,35.0 47.0,32.5 47.0,30.1 85.3,30.1 85.3,27.5 123.7,26.8 123.7,25.1 162.0,25.1 200.3,25.1 238.7,25.1 277.0,25.1 315.3,25.3 315.3,22.5 315.3,19.7 353.7,19.7 353.7,18.2 392.0,16.0 430.3,15.1 468.7,14.9 507.0,14.9" fill="none" stroke="#2b2b2b" stroke-width="1.3" stroke-linejoin="round" />
<path d="M82.4 27.2L88.2 33.0M82.4 33.0L88.2 27.2" stroke="#2b2b2b" stroke-width="1.5" fill="none"/><path d="M82.4 24.6L88.2 30.4M82.4 30.4L88.2 24.6" stroke="#2b2b2b" stroke-width="1.5" fill="none"/><path d="M120.8 23.9L126.6 29.7M120.8 29.7L126.6 23.9" stroke="#2b2b2b" stroke-width="1.5" fill="none"/><path d="M120.8 22.2L126.6 28.0M120.8 28.0L126.6 22.2" stroke="#2b2b2b" stroke-width="1.5" fill="none"/><path d="M159.1 22.2L164.9 28.0M159.1 28.0L164.9 22.2" stroke="#2b2b2b" stroke-width="1.5" fill="none"/><path d="M197.4 22.2L203.2 28.0M197.4 28.0L203.2 22.2" stroke="#2b2b2b" stroke-width="1.5" fill="none"/><path d="M235.8 22.2L241.6 28.0M235.8 28.0L241.6 22.2" stroke="#2b2b2b" stroke-width="1.5" fill="none"/><path d="M274.1 22.2L279.9 28.0M274.1 28.0L279.9 22.2" stroke="#2b2b2b" stroke-width="1.5" fill="none"/><path d="M312.4 22.4L318.2 28.2M312.4 28.2L318.2 22.4" stroke="#2b2b2b" stroke-width="1.5" fill="none"/><path d="M312.4 19.6L318.2 25.4M312.4 25.4L318.2 19.6" stroke="#2b2b2b" stroke-width="1.5" fill="none"/><path d="M312.4 16.8L318.2 22.6M312.4 22.6L318.2 16.8" stroke="#2b2b2b" stroke-width="1.5" fill="none"/><path d="M350.8 16.8L356.6 22.6M350.8 22.6L356.6 16.8" stroke="#2b2b2b" stroke-width="1.5" fill="none"/><path d="M350.8 15.3L356.6 21.1M350.8 21.1L356.6 15.3" stroke="#2b2b2b" stroke-width="1.5" fill="none"/><path d="M389.1 13.1L394.9 18.9M389.1 18.9L394.9 13.1" stroke="#2b2b2b" stroke-width="1.5" fill="none"/><path d="M427.4 12.2L433.2 18.0M427.4 18.0L433.2 12.2" stroke="#2b2b2b" stroke-width="1.5" fill="none"/><path d="M465.8 12.0L471.6 17.8M465.8 17.8L471.6 12.0" stroke="#2b2b2b" stroke-width="1.5" fill="none"/><path d="M504.1 12.0L509.9 17.8M504.1 17.8L509.9 12.0" stroke="#2b2b2b" stroke-width="1.5" fill="none"/>
<path d="M44.1 228.9L49.9 234.7M44.1 234.7L49.9 228.9" stroke="#2b2b2b" stroke-width="1.5" fill="none"/>
<line x1="47.0" y1="231.8" x2="507.0" y2="14.9" stroke="#3a3a3a" stroke-width="1.5" stroke-dasharray="7.8 4"/>
<line x1="38.4" y1="6.5" x2="38.4" y2="240.6" stroke="#222" stroke-width="1.2"/>
<line x1="37.8" y1="240.6" x2="515.6" y2="240.6" stroke="#222" stroke-width="1.2"/>
<line x1="33.2" x2="38.4" y1="231.8" y2="231.8" stroke="#222" stroke-width="1.2"/>
<text x="28" y="231.8" transform="rotate(-90 28 231.8)" text-anchor="middle" class="t">0.00</text>
<line y1="240.6" y2="245.8" x1="47.0" x2="47.0" stroke="#222" stroke-width="1.2"/>
<text x="47.0" y="259.5" text-anchor="middle" class="t">0.00</text>
<line x1="33.2" x2="38.4" y1="177.6" y2="177.6" stroke="#222" stroke-width="1.2"/>
<text x="28" y="177.6" transform="rotate(-90 28 177.6)" text-anchor="middle" class="t">0.25</text>
<line y1="240.6" y2="245.8" x1="162.0" x2="162.0" stroke="#222" stroke-width="1.2"/>
<text x="162.0" y="259.5" text-anchor="middle" class="t">0.25</text>
<line x1="33.2" x2="38.4" y1="123.4" y2="123.4" stroke="#222" stroke-width="1.2"/>
<text x="28" y="123.4" transform="rotate(-90 28 123.4)" text-anchor="middle" class="t">0.50</text>
<line y1="240.6" y2="245.8" x1="277.0" x2="277.0" stroke="#222" stroke-width="1.2"/>
<text x="277.0" y="259.5" text-anchor="middle" class="t">0.50</text>
<line x1="33.2" x2="38.4" y1="69.1" y2="69.1" stroke="#222" stroke-width="1.2"/>
<text x="28" y="69.1" transform="rotate(-90 28 69.1)" text-anchor="middle" class="t">0.75</text>
<line y1="240.6" y2="245.8" x1="392.0" x2="392.0" stroke="#222" stroke-width="1.2"/>
<text x="392.0" y="259.5" text-anchor="middle" class="t">0.75</text>
<line x1="33.2" x2="38.4" y1="14.9" y2="14.9" stroke="#222" stroke-width="1.2"/>
<text x="28" y="14.9" transform="rotate(-90 28 14.9)" text-anchor="middle" class="t">1.00</text>
<line y1="240.6" y2="245.8" x1="507.0" x2="507.0" stroke="#222" stroke-width="1.2"/>
<text x="507.0" y="259.5" text-anchor="middle" class="t">1.00</text>
<text x="11.7" y="123" transform="rotate(-90 11.7 123)" text-anchor="middle" class="t">Sensitivity</text>
<text x="277" y="273.5" text-anchor="middle" class="t">1-Specificity</text>
<rect x="46.9" y="285.4" width="460.5" height="84.4" fill="#fefefe" stroke="#222" stroke-width="1.2"/>
<line x1="52.5" x2="103.5" y1="297.8" y2="297.8" stroke="#34546a" stroke-width="1.6"/><circle cx="78.0" cy="297.8" r="2.75" fill="none" stroke="#34546a" stroke-width="1.3"/>
<line x1="52.5" x2="103.5" y1="317.3" y2="317.3" stroke="#566f40" stroke-width="1.6"/><polygon points="78.0,313.9 74.7,319.6 81.3,319.6" fill="none" stroke="#566f40" stroke-width="1.15"/>
<line x1="52.5" x2="103.5" y1="337.0" y2="337.0" stroke="#7f9b97" stroke-width="1.6"/><circle cx="78.0" cy="337.0" r="2.0" fill="#c8d4d0" stroke="#7f9b97" stroke-width="1.0"/>
<line x1="52.5" x2="103.5" y1="357.0" y2="357.0" stroke="#333" stroke-width="1.6" stroke-dasharray="7.8 4"/>
<line x1="268.5" x2="320.0" y1="297.8" y2="297.8" stroke="#873752" stroke-width="1.6"/><rect x="291.1" y="294.6" width="6.4" height="6.4" fill="none" stroke="#873752" stroke-width="1.2"/>
<line x1="268.5" x2="320.0" y1="317.3" y2="317.3" stroke="#e3914c" stroke-width="1.6"/><polygon points="294.2,313.6 297.9,317.3 294.2,321.0 290.6,317.3" fill="none" stroke="#e3914c" stroke-width="1.1"/>
<line x1="268.5" x2="320.0" y1="337.0" y2="337.0" stroke="#2b2b2b" stroke-width="1.3"/><path d="M291.4 334.1L297.1 339.9M291.4 339.9L297.1 334.1" stroke="#2b2b2b" stroke-width="1.5" fill="none"/>
<text x="112.3" y="301.6" class="l">Creatinine AUC: 0.827</text>
<text x="112.3" y="321.1" class="l">Indirect bilirubin AUC: 0.675</text>
<text x="112.3" y="340.8" class="l">Platelets AUC: 0.847</text>
<text x="112.3" y="360.8" class="l">Reference</text>
<text x="329.3" y="301.6" class="l">D-dimer AUC: 0.740</text>
<text x="329.3" y="321.1" class="l">Reticulocytes AUC: 0.718</text>
<text x="329" y="342.6" class="b">Full combined AUC: 0.967</text>
</svg>
</body></html>
